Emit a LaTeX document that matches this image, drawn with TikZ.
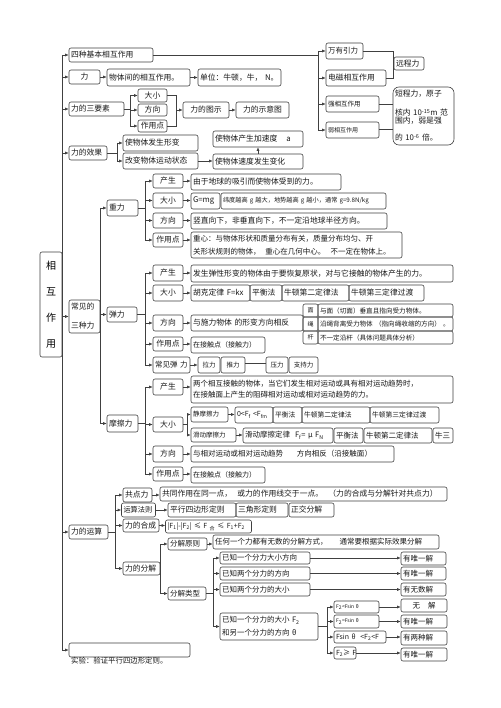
\documentclass[tikz,border=0pt]{standalone}
\usepackage{fontspec}
\setmainfont{Noto Sans CJK SC}
\usetikzlibrary{arrows.meta}
\newcommand\mybox[7][]{%
  \pgfmathsetmacro\bw{#5-#3}%
  \pgfmathsetmacro\bh{#6-#4}%
  \pgfmathsetmacro\bcx{(#3+#5)/2}%
  \pgfmathsetmacro\bcy{(#4+#6)/2}%
  \pgfmathsetmacro\btw{#5-#3-4}%
  \node[box,minimum width=\bw pt,minimum height=\bh pt,text width=\btw pt,#1] (#2) at (\bcx,\bcy) {#7};}
\begin{document}
\begin{tikzpicture}[x=1pt,y=-1pt,
  box/.style={draw=black!75,line width=0.6pt,rounded corners=2pt,inner xsep=2pt,inner ysep=0pt,align=left,font=\fontsize{7.8}{9}\selectfont,text=black!90},
  fsz/.style={font=\fontsize{#1}{9}\selectfont},
  ctr/.style={align=center},
  ln/.style={draw=black!75,line width=0.6pt},
  arr/.style={ln,-{Latex[length=3.5pt,width=3pt]}}]
\fill[white] (0,0) rectangle (500,708);
\useasboundingbox (0,0) rectangle (500,708);

% root
\node[draw=black!75,line width=0.6pt,rounded corners=2pt,minimum width=22pt,minimum height=105pt,inner sep=0pt,align=center,font=\fontsize{10}{26}\selectfont] (root) at (51,304.5) {相\\互\\作\\用};

% ---------- group 1
\mybox{sz}{69}{48}{153}{62}{四种基本相互作用}
\mybox[fsz=7.5]{wy}{326}{43}{363}{59}{万有引力}
\mybox{dcx}{326}{70}{386}{86}{电磁相互作用}
\mybox[fsz=6.5]{qx}{326}{96}{379}{112}{强相互作用}
\mybox[fsz=6]{rx}{326}{122}{379}{138}{弱相互作用}
\mybox{yc}{394}{57}{424}{70}{远程力}
\mybox[rounded corners=6pt]{dcl}{393}{87}{454}{145}{短程力，原子\\[10pt]核内 10\textsuperscript{-15}m 范\\[-1pt]围内，弱是强\\[8pt]的 10\textsuperscript{-6} 倍。}
\coordinate (v1) at (318,0);
\draw[ln] (sz.east) -- (sz.east -| v1);
\draw[ln] (wy.west -| v1) -- (rx.west -| v1);
\foreach \n in {wy,dcx,qx,rx} \draw[arr] (\n.west -| v1) -- (\n.west);
\draw[ln] (wy.east) -- (wy.east -| yc.west) -- (dcx.east -| yc.west) -- (dcx.east);
\draw[ln] (qx.east) -- (qx.east -| dcl.west);
\draw[ln,line width=1pt] (rx.east) -- (rx.east -| dcl.west);

% ---------- group 2
\mybox[ctr]{li}{69}{70}{100}{84}{力}
\mybox{wt}{107}{69}{190}{86}{物体间的相互作用。}
\mybox{dw}{198}{69}{281}{86}{单位：牛顿，牛，~N。}
\draw[arr] (li.east) -- (li.east -| wt.west);
\draw[arr] (wt.east) -- (dw.west);

% ---------- group 3
\mybox{sy}{69}{102}{124}{116}{力的三要素}
\mybox[ctr]{dx1}{138}{89}{167}{102}{大小}
\mybox[ctr]{fx1}{138}{104}{167}{116}{方向}
\mybox[ctr]{zy1}{138}{120}{167}{132}{作用点}
\mybox[ctr]{tt}{183}{102}{229}{118}{力的图示}
\mybox[ctr]{syt}{236}{102}{289}{118}{力的示意图}
\coordinate (v3a) at (130,0);
\draw[ln] (sy.east) -- (sy.east -| v3a);
\draw[ln] (dx1.west -| v3a) -- (zy1.west -| v3a);
\foreach \n in {dx1,fx1,zy1} \draw[arr] (\n.west -| v3a) -- (\n.west);
\coordinate (v3b) at (176,0);
\draw[ln] (dx1.east) -- (dx1.east -| v3b) -- (zy1.east -| v3b) -- (zy1.east);
\draw[arr] (tt.west -| v3b) -- (tt.west);
\draw[arr] (tt.east) -- (syt.west);

% ---------- group 4
\mybox{xg}{69}{146}{107}{160}{力的效果}
\mybox{xb}{123}{135}{198}{151}{使物体发生形变}
\mybox{gb}{123}{153}{198}{169}{改变物体运动状态}
\mybox{sd}{213}{154}{303}{169}{使物体速度发生变化}
\mybox{jsd}{213}{131}{303}{147}{使物体产生加速度\hspace{9pt}a}
\coordinate (v4a) at (117,0);
\draw[ln] (xg.east) -- (xg.east -| v4a);
\draw[ln] (xb.west -| v4a) -- (gb.west -| v4a);
\foreach \n in {xb,gb} \draw[arr] (\n.west -| v4a) -- (\n.west);
\draw[arr] (gb.east) -- (gb.east -| sd.west);
\draw[arr] (sd.north) -- (jsd.south);

% ---------- three forces
\mybox{szl}{69}{300}{100}{333}{常见的\\[10pt]三种力}
\coordinate (v3) at (100,0);
\coordinate (v4) at (145,0);

% gravity
\mybox{zl}{107}{200}{138}{216}{重力}
\mybox[ctr]{cs1}{153}{174}{183}{188}{产生}
\mybox[ctr]{dx2}{153}{193}{183}{208}{大小}
\mybox[ctr]{fx2}{153}{213}{183}{228}{方向}
\mybox[ctr]{zy2}{153}{233}{183}{247}{作用点}
\mybox{c11}{191}{174}{341}{190}{由于地球的吸引而使物体受到的力。}
\mybox{c12}{191}{193}{220}{209}{G=mg}
\mybox[fsz=6.2]{c13}{221}{193}{386}{209}{\mbox{纬度越高~g~越大，地势越高~g~越小，通常~g=9.8N/kg}}
\mybox{c14}{191}{213}{387}{229}{竖直向下，非垂直向下，不一定沿地球半径方向。}
\mybox[fsz=7.5]{c15}{191}{232}{402}{258}{重心：与物体形状和质量分布有关，质量分布均匀、开\\[4pt]关形状规则的物体，~~重心在几何中心。~~不一定在物体上。}
\draw[ln] (zl.east) -- (zl.east -| v4);
\draw[ln] (cs1.west -| v4) -- (zy2.west -| v4);
\foreach \n in {cs1,dx2,fx2,zy2} \draw[arr] (\n.west -| v4) -- (\n.west);
\draw[arr] (cs1.east) -- (cs1.east -| c11.west);
\draw[arr] (dx2.east) -- (dx2.east -| c12.west);
\draw[arr] (fx2.east) -- (fx2.east -| c14.west);
\draw[arr] (zy2.east) -- (zy2.east -| c15.west);

% elastic
\mybox{tl}{107}{307}{137}{322}{弹力}
\mybox[ctr]{cs2}{153}{265}{183}{281}{产生}
\mybox[ctr]{dx3}{153}{285}{183}{301}{大小}
\mybox[ctr]{fx3}{153}{315}{183}{331}{方向}
\mybox[ctr]{zy3}{153}{337}{183}{351}{作用点}
\mybox[fsz=7.5]{cj}{153}{357}{190}{373}{常见弹~力}
\mybox{c21}{191}{265}{453}{282}{发生弹性形变的物体由于要恢复原状，对与它接触的物体产生的力。}
\mybox{c22}{191}{285}{250}{301}{胡克定律~F=kx}
\mybox{c23}{250}{285}{282}{301}{平衡法}
\mybox{c24}{282}{285}{349}{301}{牛顿第二定律法}
\mybox{c25}{349}{285}{424}{301}{牛顿第三定律过渡}
\mybox{c26}{191}{315}{303}{331}{与施力物体~的形变方向相反}
\mybox[fsz=6,ctr]{m1}{303}{304}{318}{317}{面}
\mybox[fsz=6,ctr]{m2}{303}{317}{318}{331}{绳}
\mybox[fsz=6,ctr]{m3}{303}{331}{318}{344}{杆}
\mybox[fsz=6.6]{mc1}{318}{304}{453}{317}{与面（切面）垂直且指向受力物体。}
\mybox[fsz=6.6]{mc2}{318}{317}{453}{331}{\mbox{沿绳背离受力物体~（指向绳收缩的方向）~。}}
\mybox[fsz=6.6]{mc3}{318}{331}{453}{344}{不一定沿杆（具体问题具体分析）}
\mybox[fsz=7]{c27}{191}{337}{265}{353}{在接触点（接触力）}
\mybox[fsz=6.5,ctr]{ll}{198}{357}{220}{373}{拉力}
\mybox[fsz=6.5,ctr]{tui}{221}{357}{245}{373}{推力}
\mybox[fsz=6.5,ctr]{yl}{266}{357}{288}{373}{压力}
\mybox[fsz=6.5,ctr]{zcl}{289}{357}{318}{373}{支持力}
\draw[ln] (tl.east) -- (tl.east -| v4);
\draw[ln] (cs2.west -| v4) -- (cj.west -| v4);
\foreach \n in {cs2,dx3,fx3,zy3,cj} \draw[arr] (\n.west -| v4) -- (\n.west);
\draw[arr] (cs2.east) -- (cs2.east -| c21.west);
\draw[arr] (dx3.east) -- (dx3.east -| c22.west);
\draw[arr] (fx3.east) -- (fx3.east -| c26.west);
\draw[arr] (zy3.east) -- (zy3.east -| c27.west);
\draw[arr] (cj.east) -- (cj.east -| ll.west);
\draw[ln] ([yshift=2pt]tui.east) -- ([yshift=2pt]yl.west);

% friction
\mybox{mcl}{107}{415}{138}{432}{摩擦力}
\mybox[ctr]{cs3}{153}{379}{183}{395}{产生}
\mybox[ctr]{dx4}{153}{417}{183}{432}{大小}
\mybox[ctr]{fx4}{153}{446}{183}{462}{方向}
\mybox[ctr]{zy4}{153}{467}{183}{481}{作用点}
\mybox[fsz=7.5]{c31}{191}{376}{453}{403}{两个相互接触的物体，当它们发生相对运动或具有相对运动趋势时，\\[2pt]在接触面上产生的阻碍相对运动或相对运动趋势的力。}
\mybox[fsz=6.5]{c32}{191}{407}{228}{422}{静摩擦力}
\mybox[fsz=7]{c33}{235}{407}{273}{423}{\mbox{0<F\textsubscript{f}~<F\textsubscript{fm}}}
\mybox[fsz=6.8]{c34}{273}{407}{302}{423}{平衡法}
\mybox[fsz=6.8]{c35}{302}{407}{370}{423}{牛顿第二定律法}
\mybox[fsz=6.8]{c36}{370}{407}{439}{423}{牛顿第三定律过渡}
\mybox[fsz=6.5]{c37}{191}{428}{236}{442}{滑动摩擦力}
\mybox[fsz=7.5]{c38}{243}{428}{333}{443}{\mbox{滑动摩擦定律~~F\textsubscript{f}=~μ~F\textsubscript{N}}}
\mybox[fsz=7.5]{c39}{334}{428}{363}{443}{平衡法}
\mybox[fsz=7.5]{c3a}{364}{428}{432}{443}{牛顿第二定律法}
\mybox[fsz=7.5]{c3b}{433}{428}{453}{443}{牛三}
\mybox[fsz=7.5]{c3c}{191}{446}{394}{462}{与相对运动或相对运动趋势\hspace{14pt}方向相反（沿接触面）}
\mybox[fsz=7]{c3d}{191}{467}{265}{483}{在接触点（接触力）}
\draw[ln] (mcl.east) -- (mcl.east -| v4);
\draw[ln] (cs3.west -| v4) -- (zy4.west -| v4);
\foreach \n in {cs3,dx4,fx4,zy4} \draw[arr] (\n.west -| v4) -- (\n.west);
\draw[arr] (cs3.east) -- (cs3.east -| c31.west);
\coordinate (v5) at (187.5,0);
\draw[ln] (dx4.east) -- (dx4.east -| v5);
\draw[ln] (c32.west -| v5) -- (c37.west -| v5);
\draw[arr] (c32.west -| v5) -- (c32.west);
\draw[arr] (c37.west -| v5) -- (c37.west);
\draw[arr] (c32.east) -- (c32.east -| c33.west);
\draw[arr] (c37.east) -- (c37.east -| c38.west);
\draw[arr] (fx4.east) -- (fx4.east -| c3c.west);
\draw[arr] (zy4.east) -- (zy4.east -| c3d.west);

\draw[ln] (zl.west -| v3) -- (mcl.west -| v3);
\foreach \n in {zl,tl,mcl} \draw[arr] (\n.west -| v3) -- (\n.west);

% ---------- operations
\mybox{ys}{69}{525}{108}{539}{力的运算}
\mybox{gd}{123}{488}{152}{502}{共点力}
\mybox{c41}{160}{487}{447}{501}{\mbox{共同作用在同一点，~~或力的作用线交于一点。~~（力的合成与分解针对共点力）}}
\mybox[fsz=7.2,text width=30pt]{ys2}{123}{503}{154}{517}{运算法则}
\mybox{c42}{168}{503}{236}{517}{平行四边形定则}
\mybox{c43}{236}{503}{288}{517}{三角形定则}
\mybox{c44}{289}{503}{334}{517}{正交分解}
\mybox{hc}{123}{519}{159}{532}{力的合成}
\mybox[fsz=7,text width=82pt]{c45}{167}{520}{250}{533}{\mbox{|F\textsubscript{1}|-|F\textsubscript{2}|~≤~F~\textsubscript{合}~≤~F\textsubscript{1}+F\textsubscript{2}}}
\mybox{fj}{123}{562}{160}{575}{力的分解}
\mybox[fsz=7.5]{fjyz}{168}{538}{207}{550}{分解原则}
\mybox[fsz=7.5]{c46}{213}{535}{439}{549}{\mbox{任何一个力都有无数的分解方式，\hspace{12pt}通常要根据实际效果分解}}
\mybox[fsz=7.5]{fjlx}{168}{587}{206}{600}{分解类型}
\mybox[fsz=7.5]{k1}{220}{552}{310}{564}{已知一个分力大小方向}
\mybox[fsz=7.5]{k2}{220}{567}{310}{580}{已知两个分力的方向}
\mybox[fsz=7.5]{k3}{220}{583}{310}{596}{已知两个分力的大小}
\mybox[fsz=7.5]{k4}{220}{613}{318}{640}{已知一个分力的大小~F\textsubscript{2}\\[4pt]和另一个分力的方向~θ}
\mybox[fsz=7.5]{r1}{401}{552}{446}{565}{有唯一解}
\mybox[fsz=7.5]{r2}{401}{567}{446}{580}{有唯一解}
\mybox[fsz=7.5]{r3}{401}{583}{446}{596}{有无数解}
\mybox[fsz=5]{t1}{334}{601}{379}{613}{\mbox{F\textsubscript{2}<Fsin~θ}}
\mybox[fsz=5]{t2}{334}{615}{379}{628}{\mbox{F\textsubscript{2}=Fsin~θ}}
\mybox[fsz=7]{t3}{334}{631}{386}{643}{\mbox{Fsin~θ~~<F\textsubscript{2}<F}}
\mybox[fsz=7]{t4}{334}{647}{356}{659}{\mbox{F\textsubscript{2}≥~F}}
\mybox[fsz=7.5,ctr]{r4}{401}{599}{447}{612}{无\hspace{8pt}解}
\mybox[fsz=7.5]{r5}{401}{615}{447}{628}{有唯一解}
\mybox[fsz=7.5]{r6}{401}{631}{447}{645}{有两种解}
\mybox[fsz=7.5]{r7}{401}{648}{447}{661}{有唯一解}
\coordinate (v6) at (115.5,0);
\draw[ln] (ys.east) -- (ys.east -| v6);
\draw[ln] (gd.west -| v6) -- (fj.west -| v6);
\foreach \n in {gd,ys2,hc,fj} \draw[arr] (\n.west -| v6) -- (\n.west);
\draw[arr] (gd.east) -- (gd.east -| c41.west);
\draw[arr] (ys2.east) -- (ys2.east -| c42.west);
\draw[arr] (hc.east) -- (hc.east -| c45.west);
\coordinate (v7) at (160,0);
\draw[ln] (fjyz.west -| v7) -- (fjlx.west -| v7);
\foreach \n in {fjyz,fjlx} \draw[arr] (\n.west -| v7) -- (\n.west);
\draw[arr] (fjyz.east) -- (fjyz.east -| c46.west);
\coordinate (v8) at (213,0);
\draw[ln] (fjlx.east) -- (fjlx.east -| v8);
\draw[ln] (k1.west -| v8) -- (k4.west -| v8);
\foreach \n in {k1,k2,k3,k4} \draw[arr] (\n.west -| v8) -- (\n.west);
\draw[arr] (k1.east) -- (k1.east -| r1.west);
\draw[arr] (k2.east) -- (k2.east -| r2.west);
\draw[arr] (k3.east) -- (k3.east -| r3.west);
\coordinate (v9) at (327,0);
\draw[ln] (k4.east) -- (k4.east -| v9);
\draw[ln] (t1.west -| v9) -- (t4.west -| v9);
\foreach \n in {t1,t2,t3,t4} \draw[arr] (\n.west -| v9) -- (\n.west);
\draw[arr] (t1.east) -- (t1.east -| r4.west);
\draw[arr] (t2.east) -- (t2.east -| r5.west);
\draw[arr] (t3.east) -- (t3.east -| r6.west);
\draw[arr] (t4.east) -- (t4.east -| r7.west);

% experiment
\mybox{sye}{69}{643}{190}{657}{}
\node[anchor=west,inner sep=0pt,font=\fontsize{7.4}{9}\selectfont,text=black!90] (syet) at (71,661) {实验：验证平行四边形定则。};

% ---------- spine
\coordinate (spT) at (62,55);
\coordinate (spB) at (62,650);
\draw[ln] (spT) -- (spB);
\foreach \n in {sz,li,sy,xg,szl,ys,sye} \draw[arr] (\n.west -| spT) -- (\n.west);
\end{tikzpicture}
\end{document}
